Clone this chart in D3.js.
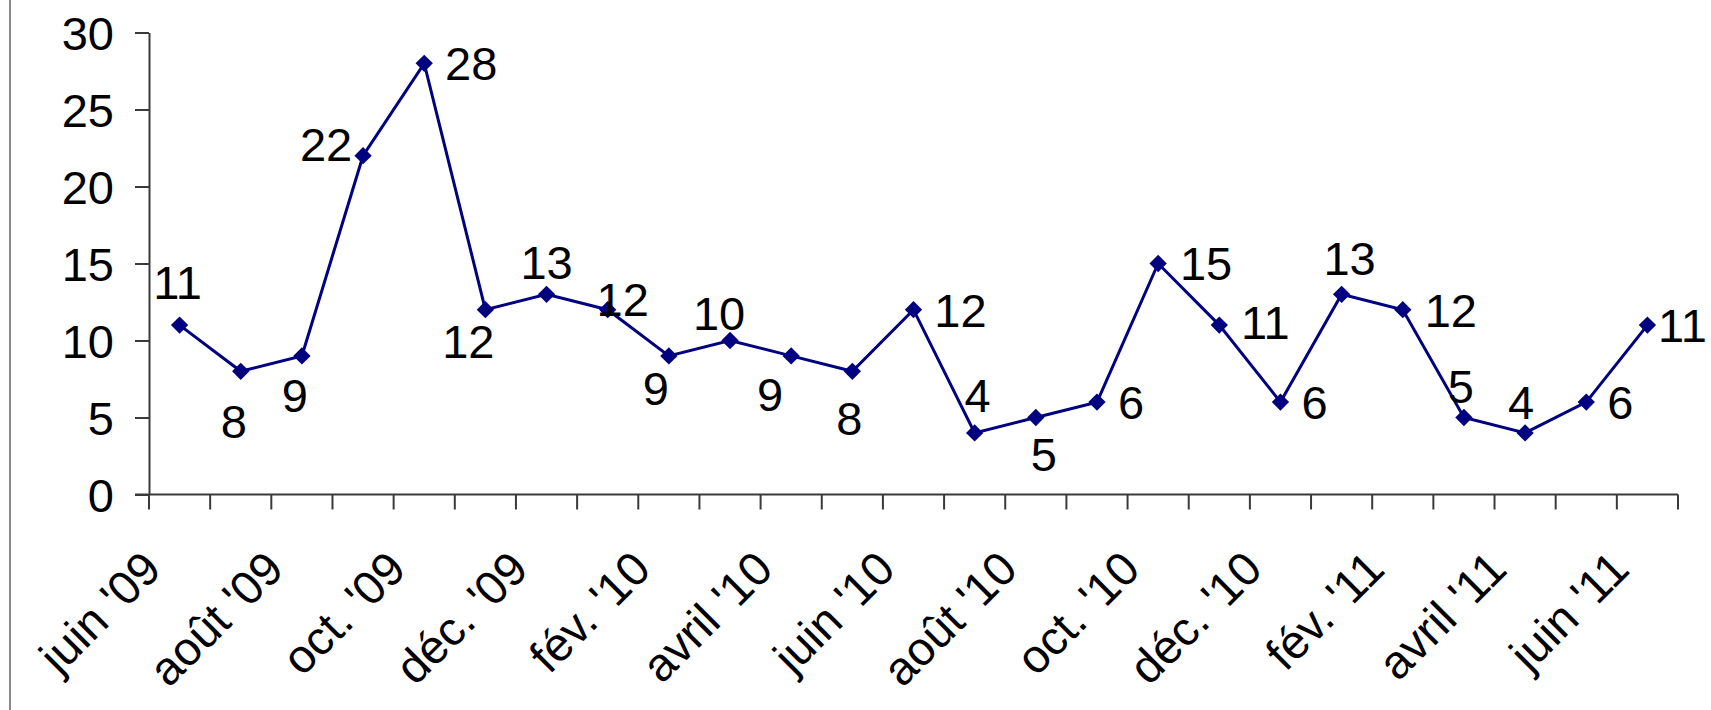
<!DOCTYPE html>
<html>
<head>
<meta charset="utf-8">
<script src="https://cdn.jsdelivr.net/npm/d3@7"></script>
<style>
  html, body { margin: 0; padding: 0; background: #fff; }
  svg { display: block; }
  text { font-family: "Liberation Sans", Arial, sans-serif; fill: #000; }
</style>
</head>
<body>
<script>
// Monthly counts, June 2009 to June 2011
const months = [
  "juin '09", "juil. '09", "août '09", "sept. '09", "oct. '09", "nov. '09", "déc. '09",
  "janv. '10", "fév. '10", "mars '10", "avril '10", "mai '10", "juin '10", "juil. '10",
  "août '10", "sept. '10", "oct. '10", "nov. '10", "déc. '10", "janv. '11", "fév. '11",
  "mars '11", "avril '11", "mai '11", "juin '11"
];
const counts = [11, 8, 9, 22, 28, 12, 13, 12, 9, 10, 9, 8, 12, 4, 5, 6, 15, 11, 6, 13, 12, 5, 4, 6, 11];
const yTicks = [0, 5, 10, 15, 20, 25, 30];

// Where each value label sits relative to its marker (centre offset, px)
const labelNudge = [
  [-2, -43], [-7, 50], [-7, 39], [-37, -12], [47, 0], [-17, 31], [0, -32],
  [15, -11], [-13, 32], [-11, -27], [-21, 38], [-3, 47], [47, 0], [3, -38],
  [8, 37], [34, 0], [48, 0], [46, -3], [34, 0], [8, -36], [48, 0],
  [-3, -31], [-4, -31], [34, 0], [35, 0]
];

const W = 1711, H = 710;
const FS = 47;
const plot = { left: 149, right: 1678, top: 32.5, bottom: 494.5 };
const navy = "#000080";
const axisColor = "#3a3a3a";

const svg = d3.select("body").append("svg")
  .attr("width", W).attr("height", H);

svg.append("rect").attr("width", W).attr("height", H).attr("fill", "#fff");

// left frame edge
svg.append("line")
  .attr("x1", 10).attr("x2", 10).attr("y1", 0).attr("y2", H)
  .attr("stroke", "#8a8a8a").attr("stroke-width", 2);

const x = d3.scaleBand().domain(months).range([plot.left, plot.right]).padding(0);
const y = d3.scaleLinear().domain([0, 30]).range([plot.bottom, plot.top]);
const cx = m => x(m) + x.bandwidth() / 2;

// Y axis
const gy = svg.append("g")
  .attr("transform", `translate(${plot.left},0)`)
  .call(d3.axisLeft(y).tickValues(yTicks).tickSize(14).tickSizeOuter(0).tickPadding(21));
gy.selectAll("path.domain").attr("stroke", axisColor).attr("stroke-width", 2);
gy.selectAll(".tick line").attr("stroke", axisColor).attr("stroke-width", 2);
gy.selectAll(".tick text")
  .attr("dy", "0.358em")
  .style("font-size", FS + "px")
  .style("font-family", '"Liberation Sans", Arial, sans-serif')
  .attr("fill", "#000");

// X axis: line, boundary ticks, and every other month label
const gx = svg.append("g").attr("transform", `translate(0,${plot.bottom})`);
gx.append("line")
  .attr("x1", plot.left - 14).attr("x2", plot.right)
  .attr("stroke", axisColor).attr("stroke-width", 2);
const bounds = months.map(m => x(m)).concat([x.range()[1]]);
gx.selectAll("line.bound").data(bounds).join("line")
  .attr("class", "bound")
  .attr("x1", d => d).attr("x2", d => d)
  .attr("y1", 0).attr("y2", 15)
  .attr("stroke", axisColor).attr("stroke-width", 2);

const xLabels = svg.append("g")
  .attr("transform", `translate(0,${plot.bottom})`)
  .call(d3.axisBottom(x).tickSize(0).tickFormat((d, i) => i % 2 === 0 ? d : ""));
xLabels.select("path.domain").remove();
xLabels.selectAll(".tick text")
  .attr("x", 0).attr("y", 0).attr("dy", 0)
  .attr("text-anchor", "end")
  .attr("transform", "translate(-16,77) rotate(-45)")
  .style("font-size", FS + "px")
  .style("font-family", '"Liberation Sans", Arial, sans-serif')
  .attr("fill", "#000");

// Series line
const pts = months.map((m, i) => ({ m, v: counts[i], i }));
svg.append("path")
  .datum(pts)
  .attr("fill", "none")
  .attr("stroke", navy)
  .attr("stroke-width", 3)
  .attr("stroke-linejoin", "miter")
  .attr("d", d3.line().x(d => cx(d.m)).y(d => y(d.v)));

// Diamond markers
const diamond = d3.symbol(d3.symbolSquare, 150);
svg.append("g").selectAll("path").data(pts).join("path")
  .attr("d", diamond)
  .attr("fill", navy)
  .attr("transform", d => `translate(${cx(d.m)},${y(d.v)}) rotate(45)`);

// Value labels
svg.append("g").selectAll("text").data(pts).join("text")
  .attr("x", d => cx(d.m) + labelNudge[d.i][0])
  .attr("y", d => y(d.v) + labelNudge[d.i][1] + 0.358 * FS)
  .attr("text-anchor", "middle")
  .style("font-size", FS + "px")
  .text(d => d.v);
</script>
</body>
</html>
